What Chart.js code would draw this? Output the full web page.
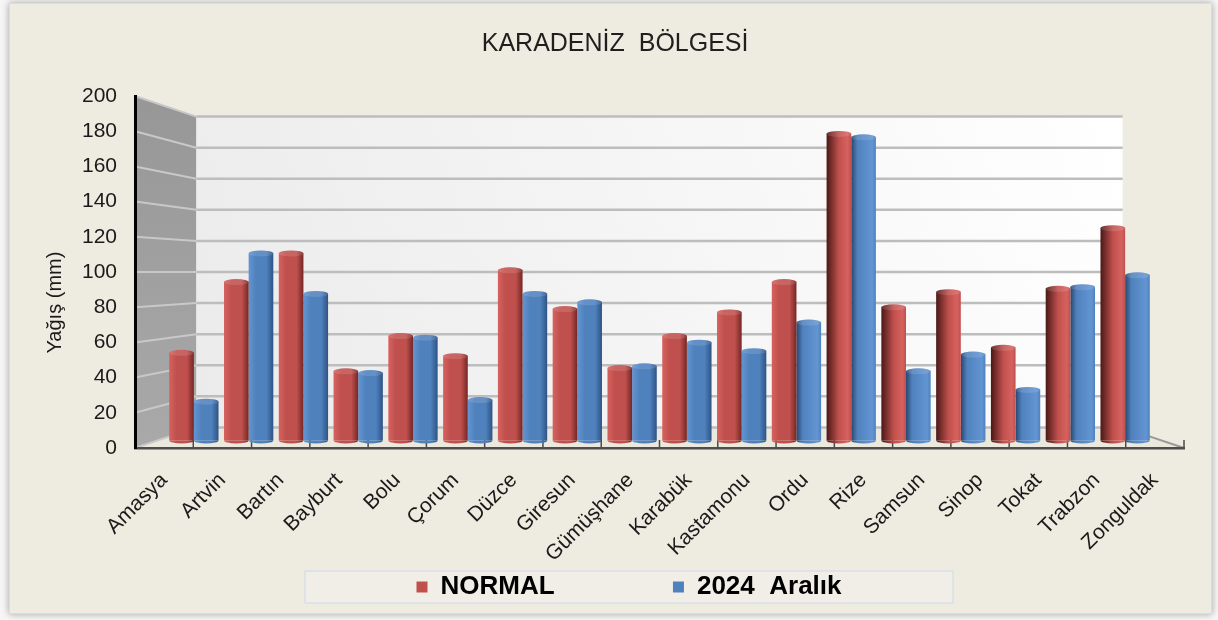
<!DOCTYPE html>
<html lang="tr">
<head>
<meta charset="utf-8">
<title>Karadeniz Bölgesi</title>
<script src="https://cdn.jsdelivr.net/npm/chart.js@4.4.1/dist/chart.umd.min.js"></script>
<style>
  html, body { margin: 0; padding: 0; background: #f6f6f6; }
  #wrap { width: 1218px; height: 620px; }
</style>
</head>
<body>
<div id="wrap"><canvas id="chart" width="1218" height="620"></canvas></div>
<script>
const CITIES = ['Amasya', 'Artvin', 'Bartın', 'Bayburt', 'Bolu', 'Çorum', 'Düzce', 'Giresun', 'Gümüşhane',
  'Karabük', 'Kastamonu', 'Ordu', 'Rize', 'Samsun', 'Sinop', 'Tokat', 'Trabzon', 'Zonguldak'];
const NORMAL = [52, 94, 111, 41, 62, 50, 101, 78, 43, 62, 76, 94, 182, 79, 88, 55, 90, 126];
const ARALIK_2024 = [23, 111, 87, 40, 61, 24, 87, 82, 44, 58, 53, 70, 180, 41, 51, 30, 91, 98];
const SERIES = ['NORMAL', '2024  Aralık'];
const Y_MIN = 0, Y_MAX = 200, Y_STEP = 20;

// fake Excel 3D: vanishing point (fraction of plot area) + depth factors
const VP = { x: 0.5, y: 0.5 };
const BACK = 0.883;   // back wall
const BAR_Y = 0.957;  // plane the columns stand in
const BAR_X = 0.94;
const CAT_PCT = 0.9;

const RED = { base: '#c0504d', light: '#d6625f', dark: '#742725', deep: '#4a1816' };
const BLUE = { base: '#4f81bd', light: '#6395d3', dark: '#2e5385', deep: '#28466f' };

// hidden axes that put the columns in the middle plane
const n = CITIES.length;
const xRange = n / BAR_X;
const xMin = -(VP.x * (1 - BAR_X) + BAR_X * 0.5 / n) * xRange;
const yMid = Y_MAX - VP.y * (Y_MAX - Y_MIN);
const ybMin = yMid - (yMid - Y_MIN) / BAR_Y;
const ybMax = yMid + (Y_MAX - yMid) / BAR_Y;

function cylinder(col) {
  return (c) => {
    const chart = c.chart, xs = chart.scales.xb, a = chart.chartArea;
    if (c.type !== 'data' || !xs || !a) return col.base;
    const unit = xs.getPixelForValue(1) - xs.getPixelForValue(0);
    const w = unit * CAT_PCT / 2;
    const mid = xs.getPixelForValue(c.dataIndex);
    const x0 = c.datasetIndex === 0 ? mid - w : mid;
    const vx = a.left + VP.x * a.width;
    const g = chart.ctx.createLinearGradient(x0, 0, x0 + w, 0);
    if (x0 + w / 2 < vx + 130) {
      g.addColorStop(0, col.light);
      g.addColorStop(0.3, col.base);
      g.addColorStop(0.72, col.base);
      g.addColorStop(1, col.dark);
    } else {
      g.addColorStop(0, col.deep);
      g.addColorStop(c.datasetIndex === 0 ? 0.5 : 0.25, col.base);
      g.addColorStop(0.85, col.light);
      g.addColorStop(1, col.base);
    }
    return g;
  };
}

const walls = {
  id: 'walls',
  beforeDraw(chart) {
    const { ctx, chartArea: a, scales } = chart;
    const W = chart.width, H = chart.height;
    const vx = a.left + VP.x * a.width, vy = a.top + VP.y * a.height;
    const P = (x, y, s) => [vx + s * (x - vx), vy + s * (y - vy)];
    ctx.save();

    // page + frame
    ctx.fillStyle = '#f6f6f6';
    ctx.fillRect(0, 0, W, H);
    ctx.shadowColor = 'rgba(0,0,0,0.35)';
    ctx.shadowBlur = 7;
    ctx.fillStyle = '#eeebe0';
    ctx.fillRect(9, 3, W - 15, H - 9);
    ctx.shadowColor = 'transparent';
    ctx.strokeStyle = '#dcdcdc';
    ctx.lineWidth = 1;
    ctx.strokeRect(9.5, 3.5, W - 16, H - 10);

    const btl = P(a.left, a.top, BACK), bbl = P(a.left, a.bottom, BACK);
    const btr = P(a.right, a.top, BACK), bbr = P(a.right, a.bottom, BACK);

    // side wall
    let g = ctx.createLinearGradient(0, a.top, 0, a.bottom);
    g.addColorStop(0, '#979797');
    g.addColorStop(1, '#a9a9a9');
    ctx.fillStyle = g;
    ctx.beginPath();
    ctx.moveTo(a.left, a.top); ctx.lineTo(btl[0], btl[1]);
    ctx.lineTo(bbl[0], bbl[1]); ctx.lineTo(a.left, a.bottom);
    ctx.closePath(); ctx.fill();

    // back wall
    g = ctx.createLinearGradient(btl[0], bbl[1], btr[0], btr[1]);
    g.addColorStop(0, '#ebebeb');
    g.addColorStop(1, '#ffffff');
    ctx.fillStyle = g;
    ctx.fillRect(btl[0], btl[1], btr[0] - btl[0], bbl[1] - btl[1]);

    // floor
    ctx.fillStyle = '#ebe8dd';
    ctx.beginPath();
    ctx.moveTo(a.left, a.bottom); ctx.lineTo(a.right, a.bottom);
    ctx.lineTo(bbr[0], bbr[1]); ctx.lineTo(bbl[0], bbl[1]);
    ctx.closePath(); ctx.fill();

    // grid lines on both walls
    const ys = scales.y;
    ys.ticks.forEach(t => {
      const py = ys.getPixelForValue(t.value);
      const b = P(a.left, py, BACK), e = P(a.right, py, BACK);
      ctx.lineWidth = 2;
      ctx.strokeStyle = '#c8c8c8';
      ctx.beginPath(); ctx.moveTo(a.left, py); ctx.lineTo(b[0], b[1]); ctx.stroke();
      ctx.lineWidth = 2.5;
      ctx.strokeStyle = '#bdbdbd';
      ctx.beginPath(); ctx.moveTo(b[0], b[1]); ctx.lineTo(e[0], e[1]); ctx.stroke();
    });

    // floor right edge
    ctx.strokeStyle = '#9a9a9a';
    ctx.lineWidth = 2;
    ctx.beginPath(); ctx.moveTo(bbr[0], bbr[1]); ctx.lineTo(a.right, a.bottom); ctx.stroke();

    // tick marks between categories, pointing into the floor
    const xs = scales.x;
    ctx.strokeStyle = '#4a4a4a';
    ctx.lineWidth = 1.5;
    for (let k = 1; k <= n; k++) {
      const bx = k < n ? (xs.getPixelForValue(k - 1) + xs.getPixelForValue(k)) / 2 : a.right;
      ctx.beginPath(); ctx.moveTo(bx, a.bottom); ctx.lineTo(bx, a.bottom - 8); ctx.stroke();
    }

    // legend frame
    const lg = chart.legend;
    if (lg) {
      const cx = (lg.left + lg.right) / 2, cy = lg.top + 10 + 13;
      ctx.fillStyle = '#f0eee7';
      ctx.fillRect(cx - 324, cy - 16, 648, 32);
      ctx.strokeStyle = '#d9e0e8';
      ctx.lineWidth = 1.5;
      ctx.strokeRect(cx - 324, cy - 16, 648, 32);
    }
    ctx.restore();
  }
};

// round the columns: elliptic base and lid on each bar element
const caps = {
  id: 'caps',
  afterDatasetsDraw(chart) {
    const ctx = chart.ctx;
    ctx.save();
    chart.data.datasets.forEach((ds, di) => {
      const meta = chart.getDatasetMeta(di);
      meta.data.forEach(el => {
        const { x, y, base, width } = el.getProps(['x', 'y', 'base', 'width'], true);
        const fill = el.options.backgroundColor;
        ctx.fillStyle = fill;
        ctx.beginPath();
        ctx.ellipse(x, base, width / 2, 3, 0, 0, Math.PI);
        ctx.fill();
        ctx.beginPath();
        ctx.ellipse(x, y, width / 2, 3, 0, 0, Math.PI * 2);
        ctx.fill();
        ctx.fillStyle = 'rgba(255,255,255,0.12)';
        ctx.fill();
      });
    });
    ctx.restore();
  }
};

Chart.defaults.font.family = "'Liberation Sans', Arial, sans-serif";
Chart.defaults.color = '#1a1a1a';

new Chart(document.getElementById('chart'), {
  type: 'bar',
  data: {
    labels: CITIES,
    datasets: [
      {
        label: SERIES[0],
        data: NORMAL.map((v, i) => ({ x: i, y: v })),
        xAxisID: 'xb', yAxisID: 'yb',
        backgroundColor: cylinder(RED),
        borderWidth: 0
      },
      {
        label: SERIES[1],
        data: ARALIK_2024.map((v, i) => ({ x: i, y: v })),
        xAxisID: 'xb', yAxisID: 'yb',
        backgroundColor: cylinder(BLUE),
        borderWidth: 0
      }
    ]
  },
  options: {
    responsive: false,
    animation: false,
    layout: { padding: { left: 74, right: 34, top: 0, bottom: 10 } },
    datasets: { bar: { categoryPercentage: CAT_PCT, barPercentage: 1 } },
    plugins: {
      title: {
        display: true,
        text: 'KARADENİZ  BÖLGESİ' + '    ',
        font: { size: 25, weight: 'normal' },
        color: '#1f1f1f',
        padding: { top: 29, bottom: 37 }
      },
      legend: {
        position: 'bottom',
        labels: {
          font: { size: 26, weight: 'bold' },
          color: '#000',
          boxWidth: 11,
          boxHeight: 11,
          padding: 10,
          generateLabels(chart) {
            const items = Chart.defaults.plugins.legend.labels.generateLabels(chart);
            const cols = [RED.base, BLUE.base];
            items.forEach((it, i) => {
              it.fillStyle = cols[i];
              it.strokeStyle = cols[i];
              it.lineWidth = 0;
              if (i < items.length - 1) it.text += ' '.repeat(15);
            });
            return items;
          }
        }
      },
      tooltip: { enabled: false }
    },
    scales: {
      x: {
        type: 'category',
        offset: true,
        bounds: 'ticks',
        grid: { display: false, drawTicks: false },
        border: { display: true, color: '#4d4d4d', width: 2.5 },
        ticks: {
          autoSkip: false, minRotation: 45, maxRotation: 45,
          padding: 20,
          font: { size: 21 },
          color: '#1a1a1a'
        },
        afterFit: s => { s.height = 116; }
      },
      xb: { type: 'linear', display: false, offset: false, min: xMin, max: xMin + xRange },
      y: {
        type: 'linear',
        position: 'left',
        min: Y_MIN, max: Y_MAX,
        grid: { display: false, drawTicks: false },
        border: { display: true, color: '#000', width: 3 },
        ticks: { stepSize: Y_STEP, padding: 18, font: { size: 21 }, color: '#1a1a1a' },
        title: {
          display: true,
          text: 'Yağış (mm)' + ' '.repeat(11),
          font: { size: 20 },
          color: '#1a1a1a',
          padding: { top: -30.4, bottom: 0 }
        },
        afterFit: s => { s.width = 61; }
      },
      yb: { type: 'linear', display: false, position: 'left', min: ybMin, max: ybMax }
    }
  },
  plugins: [walls, caps]
});
</script>
</body>
</html>
